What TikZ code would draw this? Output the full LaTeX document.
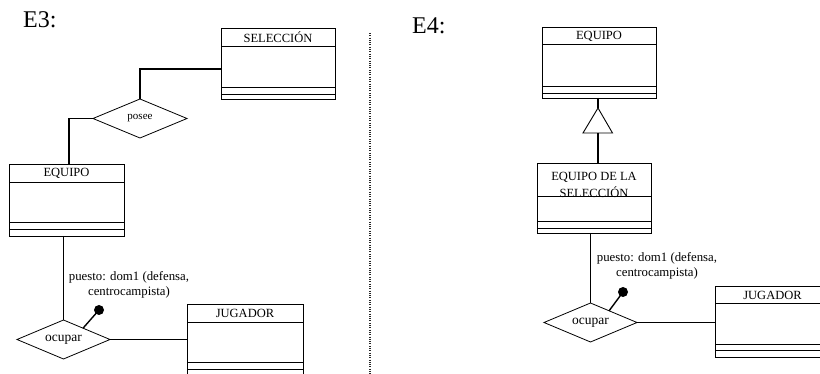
\documentclass[tikz,border=0pt]{standalone}
\usepackage{fontspec}
\setmainfont{Liberation Serif}
\usetikzlibrary{shapes.geometric,calc}
\tikzset{
  clsbox/.style={draw, rectangle, line width=0.8pt, inner sep=0pt, outer sep=0pt},
  clsline/.style={line width=0.8pt},
  clstitle/.style={font=\fontsize{12.5}{14}\selectfont, inner sep=0pt},
  rel/.style={draw, diamond, aspect=2.4, inner sep=0pt, outer sep=0pt, line width=0.8pt},
  conn/.style={line width=1.4pt},
  lbl/.style={font=\fontsize{12.8}{15}\selectfont, align=center, inner sep=0pt},
  head/.style={font=\fontsize{24}{28}\selectfont, inner sep=0pt, anchor=base west},
  dotmark/.style={circle, fill=black, inner sep=0pt, minimum size=10pt}
}
\newcommand\umlcls[8]{%
  \node[clsbox, minimum width=#4pt, minimum height=#5pt] (#1) at (#2,#3) {};
  \draw[clsline] ([yshift=-#6pt]#1.north west) -- ([yshift=-#6pt]#1.north east);
  \draw[clsline] ([yshift=-#7pt]#1.north west) -- ([yshift=-#7pt]#1.north east);
  \draw[clsline] ([yshift=-#8pt]#1.north west) -- ([yshift=-#8pt]#1.north east);
}
\begin{document}
\begin{tikzpicture}[x=1pt,y=-1pt]
\useasboundingbox (0,0) rectangle (820,374);
\clip (0,0) rectangle (820,374);

% ---------- E3 ----------
\node[head] (e3) at (23,28) {E3:};
\umlcls{sel}{278}{63.5}{114}{71}{18}{59}{66}
\node[clstitle] (selt) at ($(sel.north)+(0,9.5)$) {SELECCIÓN};
\umlcls{eqa}{66.5}{200}{115}{72}{18}{58}{65}
\node[clstitle] (eqat) at ($(eqa.north)+(0,9.5)$) {EQUIPO};
\umlcls{juga}{245}{343}{116}{78}{18}{58}{65}
\node[clstitle] (jugat) at ($(juga.north)+(0,9.5)$) {JUGADOR};

\node[rel, minimum width=94pt, minimum height=39pt, font=\fontsize{11}{13}\selectfont] (posee) at (140,118.5) {posee};
\node[rel, minimum width=93pt, minimum height=39pt, font=\fontsize{13.5}{15}\selectfont] (ocupa) at (63.5,339.5) {ocupar};

\coordinate (selc) at ($(sel.north west)!0.58!(sel.south west)$);
\draw[conn] (selc) -| (posee.north);
\coordinate (eqin) at ($(eqa.north west)!0.52!(eqa.north east)$);
\draw[conn] (posee.west) -| (eqin);
\draw[conn] (ocupa.north |- eqa.south) -- (ocupa.north);
\draw[conn] (ocupa.east) -- (ocupa.east -| juga.west);

\node[lbl] (pa) at (129,284.5) {puesto: dom1 (defensa,\\centrocampista)};
\node[dotmark] (da) at (99,310) {};
\coordinate (ea) at ($(ocupa.north)!0.42!(ocupa.east)$);
\draw[conn] (da.center) -- (ea);

% ---------- separator ----------
\coordinate (s1) at (370,33);
\coordinate (s2) at (370,374);
\draw[line width=1.1pt, dash pattern=on 1pt off 1.3pt, black!85] (s1) -- (s2);

% ---------- E4 ----------
\node[head] (e4) at (412,34) {E4:};
\umlcls{eqb}{599}{62.5}{114}{71}{17}{59}{66}
\node[clstitle] (eqbt) at ($(eqb.north)+(0,9)$) {EQUIPO};
\umlcls{edls}{594}{198}{114}{70}{33}{58}{65}
\node[clstitle, align=center, font=\fontsize{12.5}{17}\selectfont] (edlst) at ($(edls.north)+(0,21.5)$) {EQUIPO DE LA\\SELECCIÓN};
\umlcls{jugb}{772.5}{321.5}{115}{71}{17}{58}{64}
\node[clstitle] (jugbt) at ($(jugb.north west)+(57.5,9)$) {JUGADOR};

\coordinate (apex) at (598,108);
\coordinate (bl) at (583,133);
\coordinate (br) at (612.5,133);
\coordinate (bm) at (598,133);
\draw[line width=0.9pt, line join=miter] (apex) -- (br) -- (bl) -- cycle;
\draw[conn] (apex |- eqb.south) -- (apex);
\draw[conn] (bm) -- (bm |- edls.north);

\node[rel, minimum width=93pt, minimum height=39pt, font=\fontsize{13.5}{15}\selectfont] (ocupb) at (590.5,322.5) {ocupar};
\draw[conn] (ocupb.north |- edls.south) -- (ocupb.north);
\draw[conn] (ocupb.east) -- (ocupb.east -| jugb.west);

\node[lbl] (pb) at (657,265.5) {puesto: dom1 (defensa,\\centrocampista)};
\node[dotmark] (db) at (623,292) {};
\coordinate (eb) at ($(ocupb.north)!0.4!(ocupb.east)$);
\draw[conn] (db.center) -- (eb);
\end{tikzpicture}
\end{document}
